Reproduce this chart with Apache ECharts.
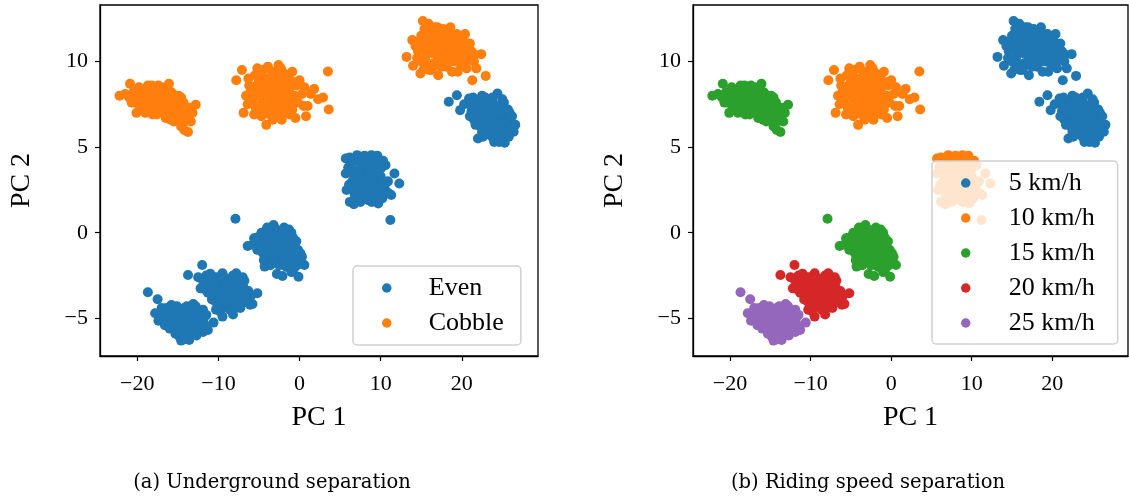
<!DOCTYPE html>
<html><head><meta charset="utf-8">
<script src="https://cdn.jsdelivr.net/npm/echarts@6/dist/echarts.min.js"></script>
<style>html,body{margin:0;padding:0;background:#fff}#c{width:1129px;height:496px}</style>
</head><body><div id="c"></div>
<script>
// ---- cluster point estimates (PC1, PC2) ----
const cobbleLeft = [[-22.2,8.0],[-20.9,8.7],[-21.0,7.9],[-20.1,7.0],[-20.3,7.6],[-19.6,8.2],[-19.4,7.4],[-18.7,8.6],[-18.8,7.8],[-18.5,7.1],[-18.0,8.3],[-17.9,7.5],[-17.6,6.9],[-17.3,8.1],[-17.1,7.6],[-16.9,8.5],[-16.8,7.2],[-16.5,6.7],[-16.4,7.9],[-16.1,8.7],[-16.0,7.4],[-15.8,8.2],[-15.6,6.9],[-15.4,7.7],[-15.2,7.2],[-15.0,6.6],[-14.9,8.0],[-14.7,7.4],[-14.5,6.9],[-14.3,7.6],[-14.1,6.5],[-13.9,7.2],[-13.8,6.8],[-13.75,5.88],[-13.5,7.3],[-13.4,6.5],[-12.8,7.47],[-13.2,7.0],[-14.6,6.2],[-15.9,6.6],[-17.0,8.3],[-18.3,7.3],[-19.0,7.0],
  [-20.5,8.2],[-19.9,7.8],[-19.2,8.0],[-18.9,8.3],[-18.4,7.7],[-17.7,8.0],[-17.5,7.2],[-16.7,7.7],[-16.3,7.3],[-15.7,7.6],[-15.3,8.0],[-15.1,7.0],[-14.8,7.7],[-14.4,7.2],[-14.0,6.9],[-16.1,7.0],[-17.2,7.0],[-15.5,6.5],[-14.2,6.0],[-16.6,8.1],[-18.1,6.9],[-19.7,7.4],
  [-21.5,8.1],[-20.7,7.6],[-19.8,8.5],[-19.0,7.6],[-18.6,8.0],[-18.2,8.6],[-17.8,7.8],[-17.4,7.4],[-17.4,8.6],[-16.9,7.9],[-16.2,7.8],[-16.0,8.2],[-15.6,7.3],[-15.2,7.6],[-14.6,7.9],[-14.3,6.7],[-13.6,6.9],[-15.3,6.9],[-16.6,7.0]];
const cobbleMid = [[-7.8,8.9],[-7.1,9.5],[-6.9,7.0],[-6.3,9.0],[-6.0,8.3],[-5.8,7.8],[-5.5,9.2],[-5.3,8.6],[-5.0,7.4],[-4.9,8.0],[-4.7,6.8],[-4.5,9.5],[-4.3,8.4],[-4.1,6.3],[-4.0,7.7],[-3.8,9.0],[-3.6,7.2],[-3.5,8.2],[-3.3,6.6],[-3.2,8.8],[-3.0,7.6],[-2.8,9.4],[-2.6,9.8],[-2.6,7.0],[-2.4,8.3],[-2.2,6.6],[-2.0,9.0],[-1.9,7.7],[-1.7,8.5],[-1.5,7.2],[-1.3,9.2],[-1.1,8.0],[-0.9,9.4],[-0.8,7.5],[-0.5,6.7],[-0.4,8.6],[0.0,8.9],[0.3,8.1],[0.8,6.8],[0.5,7.4],[1.0,7.4],[1.4,8.1],[1.8,8.4],[2.3,7.8],[2.9,7.9],[3.5,9.42],[3.6,7.2],[-5.6,6.9],[-6.6,8.0],
  [-5.2,9.6],[-4.8,8.8],[-4.4,7.2],[-4.2,7.9],[-3.9,8.6],[-3.7,6.9],[-3.4,7.5],[-3.1,9.2],[-2.9,8.1],[-2.7,8.7],[-2.5,7.5],[-2.3,9.6],[-2.1,7.1],[-1.8,8.1],[-1.6,8.9],[-1.4,7.6],[-1.0,8.6],[-0.6,8.0],[-3.9,9.7],[-4.6,7.8],[-5.1,8.4],[-3.2,7.9],[-2.0,6.9],[-1.2,6.9],
  [-6.2,8.6],[-5.7,8.0],[-5.4,7.3],[-5.0,8.9],[-4.6,9.1],[-4.4,8.1],[-4.1,7.3],[-3.8,8.0],[-3.6,8.7],[-3.4,9.4],[-3.3,7.0],[-3.0,8.4],[-2.8,7.3],[-2.7,9.0],[-2.3,7.8],[-2.1,8.6],[-1.9,9.3],[-1.6,7.9],[-1.3,8.3],[-0.9,7.2],[-0.7,8.8],[-0.2,7.6],[0.6,8.5],[-4.9,6.9],[-6.4,7.5]];
const cobbleRight = [[15.2,12.37],[13.2,10.27],[14.0,9.75],[13.9,11.25],[14.6,10.6],[15.0,11.5],[15.3,9.53],[15.5,10.2],[15.8,11.0],[16.0,11.8],[16.3,10.5],[16.6,11.3],[16.8,9.8],[17.1,9.2],[17.1,10.8],[17.4,11.7],[17.6,10.2],[17.9,11.1],[18.1,9.7],[18.3,11.8],[18.5,10.5],[18.8,9.4],[18.9,11.2],[19.2,10.0],[19.4,11.6],[19.6,10.7],[19.9,9.8],[20.1,11.3],[20.3,10.4],[20.6,9.6],[21.0,11.05],[20.9,10.1],[21.3,8.9],[21.5,10.0],[21.8,9.6],[22.4,10.43],[22.95,9.16],[16.0,9.5],[15.0,10.0],[17.0,12.0],
  [14.3,10.9],[14.8,11.2],[15.4,11.9],[15.9,10.6],[16.1,11.3],[16.5,9.9],[16.6,12.0],[16.9,10.4],[17.3,11.2],[17.8,11.5],[18.0,10.4],[18.2,10.9],[18.6,11.5],[18.7,10.0],[19.1,10.9],[19.8,11.1],[20.0,10.4],[20.5,10.9],[21.2,10.6],[19.5,9.4],[17.5,9.7],[15.9,12.2],[16.3,9.5],
  [14.5,10.2],[15.1,10.7],[15.6,11.4],[15.7,9.8],[16.2,10.9],[16.4,11.7],[16.8,10.9],[17.2,10.0],[17.5,10.6],[17.7,11.9],[18.0,11.3],[18.4,10.2],[18.8,10.6],[19.0,11.5],[19.3,10.4],[19.7,10.0],[20.2,9.9],[20.4,11.6],[20.8,10.6],[21.6,10.4],[18.6,12.0],[16.9,11.5],[14.9,9.3]];
const evenTopRight = [[18.4,7.65],[19.4,8.03],[19.8,7.16],[20.9,7.84],[21.2,7.1],[21.5,6.6],[21.8,7.6],[22.0,5.5],[22.1,6.9],[22.3,6.2],[22.5,8.0],[22.7,7.3],[22.9,5.8],[23.0,6.6],[23.3,7.8],[23.5,7.0],[23.7,6.1],[23.9,5.5],[24.0,7.5],[24.2,6.5],[24.4,8.13],[24.5,5.9],[24.8,7.0],[25.0,6.2],[25.2,7.6],[25.3,5.25],[25.5,6.7],[25.8,5.6],[26.0,6.4],[26.4,5.9],[26.6,6.3],[24.6,5.3],[21.0,6.8],[22.6,5.6],[25.7,7.2],
  [20.3,7.5],[21.4,7.9],[22.0,7.3],[22.4,6.6],[22.8,6.9],[23.1,7.4],[23.3,6.2],[23.6,6.6],[23.8,7.9],[24.1,6.9],[24.3,6.0],[24.6,7.3],[24.9,6.6],[25.1,5.7],[25.4,6.3],[25.9,7.0],[23.5,5.7],[24.0,5.3],[22.9,7.9],[21.7,6.3],[25.0,7.8],[26.2,6.8],
  [21.0,7.5],[21.9,7.0],[22.3,7.6],[22.7,6.4],[23.0,7.1],[23.4,6.9],[23.8,6.4],[24.0,7.2],[24.4,6.3],[24.7,6.9],[25.2,6.4],[25.6,6.0],[26.1,6.1],[23.6,7.6],[22.5,5.9],[24.8,5.6]];
const evenCentre = [[5.7,4.34],[7.1,4.53],[8.85,4.53],[10.6,3.95],[11.7,3.46],[12.3,2.88],[11.3,2.2],[9.7,1.71],[6.7,1.67],[5.8,2.49],[5.7,3.46],[11.2,0.74],[6.3,4.0],[6.5,3.0],[6.8,2.2],[7.0,3.6],[7.3,2.7],[7.5,1.8],[7.7,4.1],[7.8,3.2],[8.0,2.3],[8.2,3.8],[8.4,2.8],[8.5,1.9],[8.7,3.4],[8.9,2.5],[9.0,4.2],[9.2,3.0],[9.4,2.1],[9.5,3.7],[9.8,2.7],[10.0,3.3],[10.2,2.0],[10.3,4.2],[10.5,2.6],[10.9,3.0],[11.0,2.3],[6.2,1.8],[8.0,4.5],[9.6,4.5],
  [6.0,3.8],[6.1,2.8],[6.4,3.5],[6.7,2.5],[6.9,4.2],[7.2,3.2],[7.4,2.3],[7.6,3.8],[7.9,2.7],[8.1,3.4],[8.3,2.0],[8.6,4.0],[8.8,3.0],[9.1,3.6],[9.3,2.5],[9.6,3.2],[9.9,2.3],[10.1,3.8],[7.0,1.9],[8.9,1.8],[6.2,4.4],[9.9,4.0],
  [6.5,4.2],[7.4,4.3],[7.3,3.5],[8.0,3.0],[8.3,4.2],[8.6,2.4],[9.1,2.7],[9.3,3.9],[9.7,3.5],[10.0,2.8],[6.6,3.7],[7.0,2.9],[8.5,3.6],[9.0,3.3]];
const evenZero = [[-3.2,0.45],[-1.3,0.19],[-6.4,-0.78],[-5.6,-0.33],[-4.3,-1.98],[-2.8,-2.41],[-2.1,-2.53],[-0.13,-2.57],[0.6,-1.89],[0.1,-1.2],[-7.9,0.82],[-5.0,-0.5],[-4.7,0.0],[-4.5,-1.2],[-4.1,-0.6],[-3.8,-1.5],[-3.6,0.1],[-3.4,-0.9],[-3.0,-0.3],[-2.8,-1.4],[-2.6,0.1],[-2.4,-0.8],[-2.2,-1.8],[-2.0,-0.3],[-1.8,-1.2],[-1.6,-2.0],[-1.4,-0.6],[-1.2,-1.5],[-1.0,0.0],[-0.9,-0.9],[-0.7,-2.1],[-0.5,-1.6],[-0.4,-0.5],[-0.2,-1.0],[-5.2,-1.0],[-4.0,0.3],[-1.9,0.3],
  [-5.3,-0.3],[-4.9,-1.0],[-4.6,-0.4],[-4.4,-1.6],[-4.2,0.0],[-3.9,-0.9],[-3.6,-1.9],[-3.3,-0.4],[-3.1,-1.2],[-2.9,0.2],[-2.6,-0.6],[-2.5,-1.9],[-2.3,-1.1],[-2.1,0.0],[-1.9,-0.7],[-1.7,-1.6],[-1.5,-0.2],[-1.2,-1.0],[-1.0,-2.3],[-0.8,-0.3],[-0.6,-1.3],[-0.3,-1.9],[0.2,-1.7],[-5.8,-0.7],
  [-4.8,-0.2],[-4.3,-0.3],[-3.9,-0.2],[-3.6,-1.1],[-3.2,-1.6],[-2.9,-0.7],[-2.7,-1.1],[-2.3,-0.5],[-1.9,-1.9],[-1.6,-0.9],[-1.3,-1.3],[-1.1,-0.5],[-0.8,-1.7],[-0.5,-1.1],[0.3,-1.4],[-4.5,-0.9],[-2.0,-1.4]];
const evenLowMid = [[-12.0,-1.89],[-13.75,-2.47],[-5.2,-3.54],[-5.8,-4.16],[-8.2,-4.77],[-10.0,-4.2],[-12.2,-3.25],[-7.8,-2.37],[-9.5,-2.37],[-11.5,-2.5],[-11.0,-3.0],[-10.7,-3.7],[-10.5,-2.6],[-10.2,-3.3],[-9.9,-2.9],[-9.7,-3.8],[-9.4,-3.2],[-9.2,-4.3],[-9.0,-2.7],[-8.8,-3.6],[-8.5,-3.0],[-8.3,-4.0],[-8.0,-2.8],[-7.8,-3.4],[-7.6,-4.3],[-7.3,-2.9],[-7.1,-3.8],[-6.9,-3.2],[-6.6,-4.0],[-6.3,-3.4],[-6.0,-3.7],[-8.6,-4.5],[-11.3,-3.5],[-7.0,-2.6],[-9.8,-4.6],
  [-12.5,-2.6],[-11.9,-2.8],[-11.7,-3.3],[-11.2,-2.7],[-10.9,-3.5],[-10.6,-3.0],[-10.4,-4.0],[-10.1,-2.6],[-9.6,-3.4],[-9.3,-2.6],[-9.1,-3.7],[-8.9,-4.1],[-8.7,-3.2],[-8.4,-3.6],[-8.2,-2.5],[-7.9,-3.9],[-7.5,-3.1],[-7.3,-4.4],[-7.2,-3.5],[-6.8,-2.8],[-6.5,-3.6],[-6.1,-4.2],[-9.5,-4.9],[-10.3,-4.5],
  [-11.5,-3.1],[-11.0,-2.4],[-10.8,-3.9],[-10.4,-3.3],[-10.0,-3.7],[-9.7,-2.6],[-9.2,-3.0],[-9.0,-4.0],[-8.6,-2.7],[-8.5,-3.3],[-8.1,-3.1],[-8.0,-4.3],[-7.6,-3.7],[-7.4,-2.7],[-6.9,-3.6],[-6.4,-3.9],[-10.2,-4.1],[-7.0,-4.1]];
const evenLowLeft = [[-18.7,-3.48],[-17.5,-3.89],[-17.8,-4.7],[-17.4,-5.14],[-10.6,-5.25],[-11.3,-5.68],[-13.6,-6.26],[-14.8,-6.07],[-15.8,-4.22],[-13.1,-4.16],[-16.8,-4.8],[-16.3,-5.1],[-15.9,-4.7],[-15.5,-5.3],[-15.2,-4.6],[-15.0,-5.6],[-14.7,-4.9],[-14.4,-5.4],[-14.2,-4.4],[-14.0,-5.8],[-13.8,-5.0],[-13.5,-4.6],[-13.3,-5.5],[-13.0,-4.9],[-12.8,-5.9],[-12.6,-5.3],[-12.3,-4.6],[-12.0,-5.6],[-11.8,-5.0],[-11.5,-4.8],[-16.0,-5.6],[-14.6,-6.3],
  [-17.0,-4.4],[-16.6,-5.4],[-16.2,-4.5],[-15.7,-5.0],[-15.3,-5.9],[-15.1,-4.3],[-14.9,-5.2],[-14.5,-4.6],[-14.3,-6.0],[-14.1,-5.1],[-13.9,-4.3],[-13.6,-5.3],[-13.4,-5.9],[-13.2,-4.5],[-12.9,-5.2],[-12.5,-4.9],[-12.2,-5.3],[-11.9,-4.5],[-11.6,-5.4],[-12.8,-4.3],[-14.0,-6.2],[-16.4,-4.4],
  [-16.9,-5.0],[-16.0,-4.9],[-15.6,-4.5],[-15.4,-5.6],[-14.8,-4.5],[-14.6,-5.7],[-14.3,-5.1],[-13.9,-4.7],[-13.7,-5.6],[-13.3,-5.1],[-13.0,-5.6],[-12.6,-4.6],[-12.2,-5.0],[-11.9,-5.8],[-15.0,-4.9],[-12.7,-6.0]];

// ---- series ----
const evenData = [].concat(evenTopRight, evenCentre, evenZero, evenLowMid, evenLowLeft);
const cobbleData = [].concat(cobbleLeft, cobbleMid, cobbleRight);
const speed5 = [].concat(cobbleRight, evenTopRight);
const speed10 = [].concat(cobbleMid, evenCentre);
const speed15 = [].concat(cobbleLeft, evenZero);
const speed20 = evenLowMid;
const speed25 = evenLowLeft;

const xTicks = [-20, -10, 0, 10, 20];
const yTicks = [-5, 0, 5, 10];
const captions = ['(a) Underground separation', '(b) Riding speed separation'];
const colors = ['#1f77b4', '#ff7f0e', '#2ca02c', '#d62728', '#9467bd'];

const FONT = 'Liberation Serif';
const fmt = v => String(v).replace('-', '\u2212');
function xAxis(i) {
  return {
    type: 'value', gridIndex: i, min: -24.6, max: 29.4,
    name: 'PC 1', nameLocation: 'middle', nameGap: 48,
    nameTextStyle: { fontFamily: FONT, fontSize: 28, color: '#000' },
    axisLine: { show: true, onZero: false, lineStyle: { color: '#000', width: 1.3 } },
    axisTick: { show: true, length: 5, inside: false, lineStyle: { color: '#000', width: 1.2 }, customValues: xTicks },
    axisLabel: { fontFamily: FONT, fontSize: 22, color: '#000', margin: 17, formatter: fmt, customValues: xTicks },
    splitLine: { show: false }
  };
}
function yAxis(i) {
  return {
    type: 'value', gridIndex: i, min: -7.2, max: 13.3,
    name: 'PC 2', nameLocation: 'middle', nameGap: 64, nameRotate: 90,
    nameTextStyle: { fontFamily: FONT, fontSize: 28, color: '#000' },
    axisLine: { show: true, onZero: false, lineStyle: { color: '#000', width: 1.3 } },
    axisTick: { show: true, length: 5, inside: false, lineStyle: { color: '#000', width: 1.2 }, customValues: yTicks },
    axisLabel: { fontFamily: FONT, fontSize: 22, color: '#000', margin: 12, formatter: fmt, customValues: yTicks },
    splitLine: { show: false }
  };
}
function sc(name, data, color, i) {
  return { type: 'scatter', name, data, xAxisIndex: i, yAxisIndex: i, symbolSize: 10,
    itemStyle: { color, opacity: 1 }, emphasis: { disabled: true }, silent: true };
}
function legend(names, left, top, pad, textPad) {
  return {
    data: names, left, top, padding: pad,
    orient: 'vertical', icon: 'circle', itemWidth: 20, itemHeight: 9.5, itemGap: 9,
    backgroundColor: 'rgba(255,255,255,0.8)', borderColor: '#d0d0d0', borderWidth: 1.5, borderRadius: 4,
    textStyle: { fontFamily: FONT, fontSize: 26, color: '#000', padding: [0, 0, 0, textPad] },
    selectedMode: false
  };
}

const chart = echarts.init(document.getElementById('c'), null, { renderer: 'canvas' });
chart.setOption({
  animation: false,
  backgroundColor: '#fff',
  grid: [
    { left: 100, top: 5, width: 438, height: 351, show: true, borderColor: '#000', borderWidth: 1.3, backgroundColor: 'transparent' },
    { left: 693, top: 5, width: 435, height: 351, show: true, borderColor: '#000', borderWidth: 1.3, backgroundColor: 'transparent' }
  ],
  xAxis: [xAxis(0), xAxis(1)],
  yAxis: [yAxis(0), yAxis(1)],
  legend: [
    legend(['Even', 'Cobble'], 353, 266, [9, 17, 9, 29], 27),
    legend(['5 km/h', '10 km/h', '15 km/h', '20 km/h', '25 km/h'], 932, 161, [9, 23, 8, 29], 28)
  ],
  series: [
    sc('Even', evenData, colors[0], 0),
    sc('Cobble', cobbleData, colors[1], 0),
    sc('5 km/h', speed5, colors[0], 1),
    sc('10 km/h', speed10, colors[1], 1),
    sc('15 km/h', speed15, colors[2], 1),
    sc('20 km/h', speed20, colors[3], 1),
    sc('25 km/h', speed25, colors[4], 1)
  ],
  graphic: [
    { type: 'text', x: 272, y: 483, style: { text: captions[0], font: '19.5px "DejaVu Serif"', fill: '#000', align: 'center', verticalAlign: 'middle' } },
    { type: 'text', x: 868, y: 483, style: { text: captions[1], font: '19.5px "DejaVu Serif"', fill: '#000', align: 'center', verticalAlign: 'middle' } }
  ]
});
</script>
</body></html>
